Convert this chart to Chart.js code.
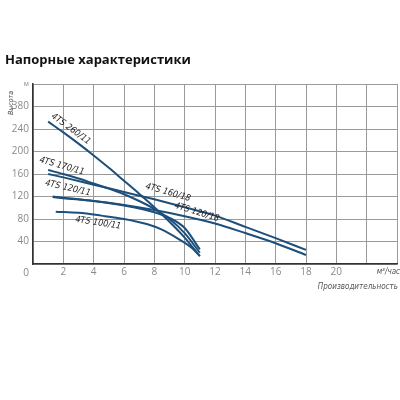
<!DOCTYPE html>
<html>
<head>
<meta charset="utf-8">
<script src="https://cdn.jsdelivr.net/npm/chart.js@4"></script>
<style>
  html, body { margin: 0; padding: 0; background: #fff; }
  #wrap { width: 400px; height: 400px; }
</style>
</head>
<body>
<div id="wrap"><canvas id="grafico"></canvas></div>
<script>
// ===== DATOS =====
// производительность (м³/час) и высота (м) для каждого насоса
const q260_11 = [1, 2, 3, 4, 5, 6, 7, 8, 9, 10, 11];
const h260_11 = [253, 234, 214, 193, 171, 148, 125, 101, 75, 47, 14];

const q170_11 = [1, 2, 3, 4, 5, 6, 7, 8, 9, 10, 11];
const h170_11 = [167, 160, 152, 143, 134, 124, 112, 98, 80, 55, 20];

const q160_18 = [1, 2, 4, 6, 8, 10, 12, 14, 16, 18];
const h160_18 = [160, 154, 141, 128, 115, 101, 86, 66, 46, 25];

const q120_11 = [1.3, 2, 4, 6, 8, 9, 10, 11];
const h120_11 = [120, 118, 112, 104, 92, 82, 64, 26];

const q120_18 = [1.3, 2, 4, 6, 8, 10, 12, 14, 16, 18];
const h120_18 = [119, 117, 112, 105, 96, 85, 72, 55, 37, 16];

const q100_11 = [1.5, 3, 4.5, 6, 7.5, 8.5, 9.5, 10.5, 11];
const h100_11 = [93, 91, 86, 80, 71, 61, 46, 28, 14];

const etiquetasY = { 40: '40', 80: '80', 120: '120', 160: '160', 200: '200', 240: '240', 280: '380', 320: 'м' };
const etiquetasX = [2, 4, 6, 8, 10, 12, 14, 16, 18, 20];

// подписи кривых: [текст, x, y, угол]
const rotulos = [
  ['4TS 260/11', 2.5, 240, 36],
  ['4TS 170/11', 1.9, 174, 16],
  ['4TS 120/11', 2.3, 135, 13],
  ['4TS 160/18', 8.9, 127, 16],
  ['4TS 120/18', 10.8, 92, 17],
  ['4TS 100/11', 4.3, 73, 9]
];

const COLOR_CURVA = '#1d4f7a';

function puntos(xs, ys) {
  return xs.map((x, i) => ({ x: x, y: ys[i] }));
}

function serie(nombre, xs, ys) {
  return {
    label: nombre,
    data: puntos(xs, ys),
    borderColor: COLOR_CURVA,
    borderWidth: 2,
    pointRadius: 0,
    cubicInterpolationMode: 'monotone',
    fill: false
  };
}

// ===== TEXTOS =====
const textos = {
  id: 'textos',
  afterDraw(chart) {
    const ctx = chart.ctx;
    const sx = chart.scales.x, sy = chart.scales.y;
    ctx.save();

    // título
    ctx.fillStyle = '#111';
    ctx.font = 'bold 13px "Open Sans", sans-serif';
    ctx.textAlign = 'left';
    ctx.textBaseline = 'middle';
    ctx.fillText('Напорные характеристики', 5, 60);

    // подписи кривых
    ctx.font = 'italic 9px "Liberation Sans Narrow", "DejaVu Sans Condensed", sans-serif';
    ctx.fillStyle = '#1a1a1a';
    ctx.textAlign = 'center';
    rotulos.forEach(r => {
      ctx.save();
      ctx.translate(sx.getPixelForValue(r[1]), sy.getPixelForValue(r[2]));
      ctx.rotate(r[3] * Math.PI / 180);
      ctx.fillText(r[0], 0, 0);
      ctx.restore();
    });

    // ось Y
    ctx.save();
    ctx.translate(11, 103);
    ctx.rotate(-Math.PI / 2);
    ctx.font = 'italic 7px "DejaVu Sans Condensed", sans-serif';
    ctx.fillStyle = '#444';
    ctx.fillText('Высота', 0, 0);
    ctx.restore();

    // ноль
    ctx.font = '10px "Open Sans", sans-serif';
    ctx.fillStyle = '#888';
    ctx.textAlign = 'center';
    ctx.fillText('0', 26, 273);

    // единицы оси X
    ctx.font = 'italic 8px "DejaVu Sans Condensed", sans-serif';
    ctx.fillStyle = '#555';
    ctx.textAlign = 'right';
    ctx.fillText('м³/час', 400, 272);
    ctx.fillText('Производительность', 398, 287);

    ctx.restore();
  }
};

// ===== GRÁFICO =====
const ctxGrafico = document.getElementById('grafico').getContext('2d');
new Chart(ctxGrafico, {
  type: 'line',
  data: {
    datasets: [
      serie('4TS 260/11', q260_11, h260_11),
      serie('4TS 170/11', q170_11, h170_11),
      serie('4TS 160/18', q160_18, h160_18),
      serie('4TS 120/11', q120_11, h120_11),
      serie('4TS 120/18', q120_18, h120_18),
      serie('4TS 100/11', q100_11, h100_11)
    ]
  },
  options: {
    responsive: true,
    maintainAspectRatio: false,
    animation: false,
    layout: { padding: { top: 84, right: 3, left: 0, bottom: 0 } },
    plugins: {
      legend: { display: false },
      tooltip: { enabled: false }
    },
    scales: {
      x: {
        type: 'linear',
        min: 0,
        max: 24,
        afterFit(scale) { scale.height = 136; },
        afterBuildTicks(scale) {
          scale.ticks = [];
          for (let v = 0; v <= 24; v += 2) scale.ticks.push({ value: v });
        },
        ticks: {
          color: '#8a8a8a',
          font: { family: '"Open Sans", sans-serif', size: 10 },
          padding: 2,
          maxRotation: 0,
          callback: v => etiquetasX.includes(v) ? String(v) : ''
        },
        grid: { color: '#9a9a9a', lineWidth: 1, drawTicks: false },
        border: { color: '#333', width: 1.5 }
      },
      y: {
        min: 0,
        max: 320,
        afterFit(scale) { scale.width = 33; },
        ticks: {
          stepSize: 40,
          color: '#8a8a8a',
          padding: 4,
          font: ctx => ctx.tick && ctx.tick.value === 320
            ? { family: '"Open Sans", sans-serif', size: 7 }
            : { family: '"Open Sans", sans-serif', size: 10 },
          callback: v => etiquetasY[v] || ''
        },
        grid: { color: '#9a9a9a', lineWidth: 1, drawTicks: false },
        border: { color: '#333', width: 1.5 }
      }
    }
  },
  plugins: [textos]
});
</script>
</body>
</html>
